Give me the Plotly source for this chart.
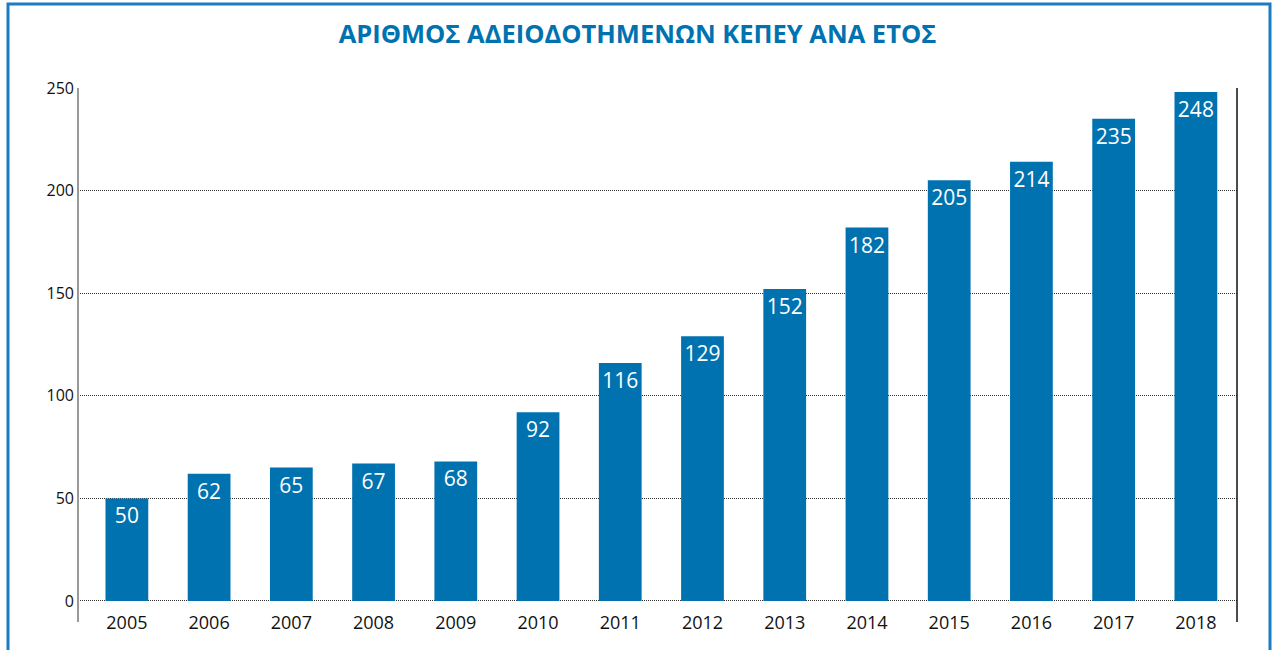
import plotly.graph_objects as go

years = [2005, 2006, 2007, 2008, 2009, 2010, 2011, 2012, 2013, 2014, 2015, 2016, 2017, 2018]
values = [50, 62, 65, 67, 68, 92, 116, 129, 152, 182, 205, 214, 235, 248]
y_ticks = [0, 50, 100, 150, 200, 250]
title_text = "ΑΡΙΘΜΟΣ ΑΔΕΙΟΔΟΤΗΜΕΝΩΝ ΚΕΠΕΥ ΑΝΑ ΕΤΟΣ"

BLUE = "#0072b0"
FONT = "Open Sans"

W, H = 1275, 650
L, R, T, B = 80, 38, 88, 40
pw, ph = W - L - R, H - T - B

def px(x):
    return (x - L) / pw

def py(y):
    return (H - B - y) / ph

fig = go.Figure(go.Bar(
    x=years, y=values, width=0.52,
    marker=dict(color=BLUE, line=dict(width=0)),
    text=[str(v) for v in values],
    textposition="inside", insidetextanchor="end", textangle=0,
    textfont=dict(color="white", size=21, family=FONT),
    hoverinfo="x+y",
))

fig.update_layout(
    width=W, height=H,
    margin=dict(l=L, r=R, t=T, b=B, pad=0),
    paper_bgcolor="white", plot_bgcolor="white",
    showlegend=False,
    title=dict(text="<b>" + title_text + "</b>", x=0.5, xanchor="center",
               y=1 - 34 / H, yanchor="middle",
               font=dict(family=FONT, size=25.5, color=BLUE)),
    xaxis=dict(
        range=[2004.43, 2018.5], tickmode="array", tickvals=years,
        ticktext=[str(y) for y in years], showgrid=False, zeroline=False,
        showline=False, ticks="", tickfont=dict(family=FONT, size=18, color="#111"),
    ),
    yaxis=dict(
        range=[-4.39, 250], tickmode="array", tickvals=y_ticks,
        showgrid=True, gridcolor="#333", griddash="1px,1px", gridwidth=1,
        zeroline=False, showline=False, ticks="", ticklabelstandoff=5,
        tickfont=dict(family=FONT, size=16, color="#111"),
    ),
    shapes=[
        # outer blue frame
        dict(type="rect", xref="paper", yref="paper",
             x0=px(8), x1=px(1270), y0=py(670), y1=py(4),
             line=dict(color="#1a7dc0", width=3), fillcolor="rgba(0,0,0,0)", layer="below"),
        # left axis line
        dict(type="line", xref="paper", yref="paper",
             x0=px(78), x1=px(78), y0=py(88), y1=py(622),
             line=dict(color="#777", width=1.5)),
        # right axis line
        dict(type="line", xref="paper", yref="paper",
             x0=px(1237), x1=px(1237), y0=py(88), y1=py(622),
             line=dict(color="#111", width=1.5)),
    ],
)

fig.write_html(
    "out.html",
    config={"displayModeBar": False},
    post_script="document.body.style.margin='0';document.body.style.overflow='hidden';",
)
